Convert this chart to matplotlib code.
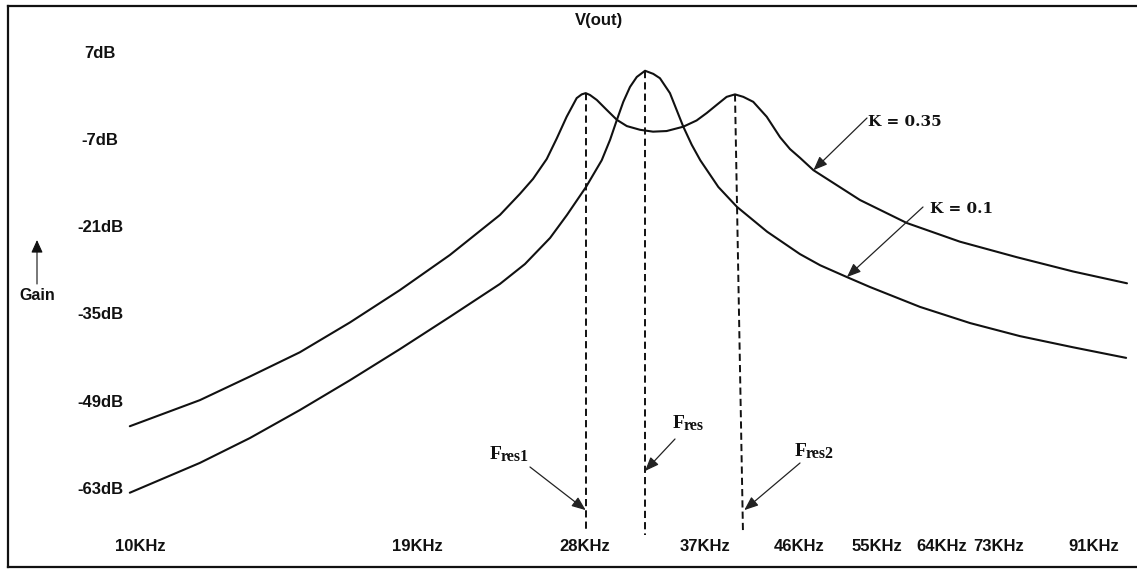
import numpy as np
import matplotlib
matplotlib.use("Agg")
import matplotlib.pyplot as plt

# ---- data -----------------------------------------------------------------
# frequency (kHz) and gain (dB) of the coupled tuned circuit, K = 0.35
freq_k035 = [9.77, 11.49, 12.90, 14.48, 16.26, 18.25, 20.49, 23.01, 24.10, 24.84,
             25.64, 26.24, 26.85, 27.48, 27.80, 28.06, 28.34, 28.79, 29.46, 30.16,
             30.86, 31.82, 32.79, 33.84, 35.17, 36.27, 37.13, 37.99, 38.88, 39.64,
             40.41, 41.35, 42.66, 44.00, 45.02, 46.07, 47.53, 52.94, 59.0, 66.7,
             76.1, 86.7, 98.2]
gain_k035 = [-52.9, -48.7, -44.9, -41.0, -36.2, -31.0, -25.35, -18.9, -15.5, -13.1,
             -9.9, -6.6, -3.1, -0.1, 0.5, 0.7, 0.4, -0.4, -2.0, -3.6,
             -4.6, -5.2, -5.5, -5.4, -4.7, -3.7, -2.5, -1.2, 0.1, 0.5,
             0.1, -0.7, -3.1, -6.4, -8.3, -9.7, -11.7, -16.5, -20.2, -23.2,
             -25.7, -28.0, -29.9]

# K = 0.1
freq_k01 = [9.77, 11.49, 12.90, 14.48, 16.26, 18.25, 20.49, 23.01, 24.38, 25.84,
            26.87, 28.08, 29.12, 29.69, 30.16, 30.61, 31.09, 31.58, 32.19, 32.81,
            33.32, 34.10, 34.63, 35.17, 35.86, 36.58, 38.14, 39.82, 42.70, 46.07,
            48.28, 51.36, 54.18, 60.83, 68.3, 76.65, 86.7, 98.0]
gain_k01 = [-63.6, -58.8, -54.8, -50.3, -45.5, -40.5, -35.3, -30.0, -26.8, -22.6,
            -18.9, -14.4, -10.1, -6.8, -3.6, -0.7, 1.7, 3.3, 4.3, 3.8,
            3.1, 0.7, -2.0, -4.7, -7.6, -10.1, -14.4, -17.6, -21.6, -25.2,
            -27.0, -28.9, -30.5, -33.7, -36.3, -38.4, -40.2, -41.9]

# resonance markers (kHz) and their peak gains (dB)
f_res1, g_res1 = 28.06, 0.7
f_res, g_res = 32.19, 4.3
f_res2, g_res2 = 39.64, 0.5
f_res2_foot = 40.38
marker_floor = [-69.6, -70.4, -70.1]

y_ticks = [7, -7, -21, -35, -49, -63]
y_tick_labels = ["7dB", "-7dB", "-21dB", "-35dB", "-49dB", "-63dB"]
x_ticks = [10, 19, 28, 37, 46, 55, 64, 73, 91]
x_tick_labels = ["10KHz", "19KHz", "28KHz", "37KHz", "46KHz",
                 "55KHz", "64KHz", "73KHz", "91KHz"]

# ---- figure ---------------------------------------------------------------
W, H = 1137, 570
fig = plt.figure(figsize=(W / 100, H / 100), dpi=100)
ax = fig.add_axes([8 / W, 3 / H, (1140 - 8) / W, 561 / H])
ax.set_xscale("log")
ax.set_xlim(7.37, 101.2)
ax.set_ylim(-75.55, 14.72)
ax.set_xticks([])
ax.set_yticks([])
ax.minorticks_off()
for s in ("top", "left", "bottom"):
    ax.spines[s].set_linewidth(1.6)
    ax.spines[s].set_color("#111111")
ax.spines["right"].set_visible(False)

line_kw = dict(color="#111111", lw=1.5, solid_joinstyle="round", solid_capstyle="round")
ax.plot(freq_k035, gain_k035, **line_kw)
ax.plot(freq_k01, gain_k01, **line_kw)

dash_kw = dict(color="#111111", lw=1.4, ls=(0, (3.7, 2.1)))
ax.plot([f_res1, f_res1], [g_res1, marker_floor[0]], **dash_kw)
ax.plot([f_res, f_res], [g_res, marker_floor[1]], **dash_kw)
ax.plot([f_res2, f_res2_foot], [g_res2, marker_floor[2]], **dash_kw)

sans = dict(family="Liberation Sans", fontweight="bold", fontsize=12, color="#111111")

# gain labels inside the frame
ytr = ax.get_yaxis_transform()
for v, lab in zip(y_ticks, y_tick_labels):
    ax.text(0.0813, v, lab, transform=ytr, ha="center", va="center", **sans)

# frequency labels along the bottom
xtr = ax.get_xaxis_transform()
for v, lab in zip(x_ticks, x_tick_labels):
    ax.text(v, 0.0374, lab, transform=xtr, ha="center", va="center", **sans)

fig.text(599 / W, 1 - 21 / H, "V(out)", ha="center", va="center", **sans)

# Gain axis arrow
fig.text(37 / W, 1 - 295 / H, "Gain", ha="center", va="center",
         family="Liberation Sans", fontweight="bold", fontsize=11.5, color="#111111")
ax.annotate("", xy=(37, H - 240), xycoords="figure pixels",
            xytext=(37, H - 284), textcoords="figure pixels",
            arrowprops=dict(arrowstyle="-|>,head_length=0.55,head_width=0.25",
                            lw=0.8, color="#111111", shrinkA=0, shrinkB=0,
                            mutation_scale=14))

arrow = dict(arrowstyle="-|>,head_length=0.6,head_width=0.24", lw=0.9,
             color="#222222", shrinkA=0, shrinkB=0, mutation_scale=14)

# coupling factor call-outs
kfont = dict(family="DejaVu Serif", fontweight="bold", fontsize=11, color="#111111")
i35 = freq_k035.index(47.53)
ax.annotate("", xy=(freq_k035[i35], gain_k035[i35]), xycoords="data",
            xytext=(867, H - 118), textcoords="figure pixels", arrowprops=arrow)
fig.text(868 / W, 1 - 126 / H, "K = 0.35", ha="left", va="baseline", **kfont)

i01 = freq_k01.index(51.36)
ax.annotate("", xy=(freq_k01[i01], gain_k01[i01]), xycoords="data",
            xytext=(923, H - 207), textcoords="figure pixels", arrowprops=arrow)
fig.text(930 / W, 1 - 212.7 / H, "K = 0.1", ha="left", va="baseline", **kfont)

# resonance call-outs
ffont = dict(family="Liberation Serif", fontweight="bold", color="#111111")


def res_label(x, y, sub):
    fig.text(x / W, 1 - y / H, "F", ha="left", va="baseline", fontsize=14, **ffont)
    fig.text((x + 11) / W, 1 - (y + 1.5) / H, sub, ha="left", va="baseline",
             fontsize=11.5, **ffont)


ax.annotate("", xy=(f_res1, -66.4), xycoords="data",
            xytext=(530, H - 467), textcoords="figure pixels", arrowprops=arrow)
res_label(490, 459.3, "res1")

ax.annotate("", xy=(f_res, -60.1), xycoords="data",
            xytext=(675, H - 439), textcoords="figure pixels", arrowprops=arrow)
res_label(673, 428.3, "res")

ax.annotate("", xy=(40.5, -66.4), xycoords="data",
            xytext=(800, H - 463), textcoords="figure pixels", arrowprops=arrow)
res_label(795, 456, "res2")

fig.savefig("out.png", dpi=100)
